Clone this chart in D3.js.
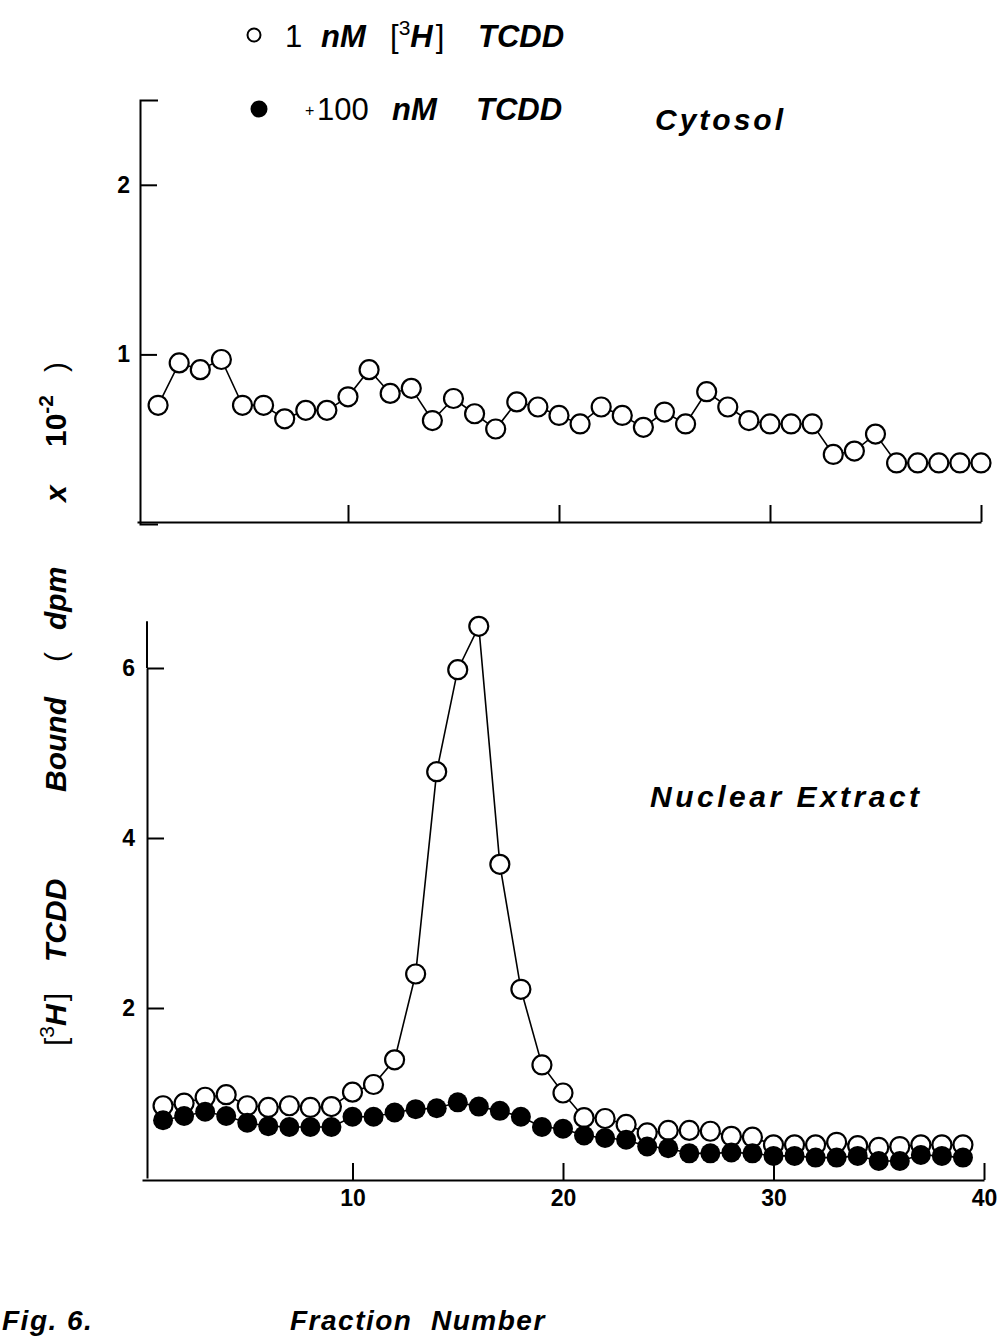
<!DOCTYPE html>
<html>
<head>
<meta charset="utf-8">
<script src="https://cdn.jsdelivr.net/npm/d3@7"></script>
<style>
  body { margin: 0; background: #fff; }
  svg text { font-family: "Liberation Sans", Arial, sans-serif; fill: #000; }
  .axis path, .axis line { stroke: #000; stroke-width: 2; }
  .axis text { font-size: 23px; font-weight: bold; font-family: "Liberation Sans", Arial, sans-serif; }
</style>
</head>
<body>
<div id="chart"></div>
<script>
// fraction numbers
var fractionsTop = [1,2,3,4,5,6,7,8,9,10,11,12,13,14,15,16,17,18,19,20,
                    21,22,23,24,25,26,27,28,29,30,31,32,33,34,35,36,37,38,39,40];
var fractionsBottom = [1,2,3,4,5,6,7,8,9,10,11,12,13,14,15,16,17,18,19,20,
                       21,22,23,24,25,26,27,28,29,30,31,32,33,34,35,36,37,38,39];

// Cytosol, 1 nM [3H] TCDD
var cytosolOpen = [0.70,0.95,0.91,0.97,0.70,0.70,0.62,0.67,0.67,0.75,
                   0.91,0.77,0.80,0.61,0.74,0.65,0.56,0.72,0.69,0.64,
                   0.59,0.69,0.64,0.57,0.66,0.59,0.78,0.69,0.61,0.59,
                   0.59,0.59,0.41,0.43,0.53,0.36,0.36,0.36,0.36,0.36];

// Nuclear extract, 1 nM [3H] TCDD
var nuclearOpen = [0.85,0.88,0.95,0.98,0.85,0.83,0.85,0.83,0.84,1.01,
                   1.10,1.39,2.40,4.78,5.98,6.49,3.69,2.22,1.33,1.00,
                   0.71,0.70,0.63,0.53,0.56,0.56,0.55,0.49,0.48,0.39,
                   0.39,0.39,0.42,0.38,0.36,0.37,0.39,0.39,0.39];

// Nuclear extract, +100 nM TCDD
var nuclearFilled = [0.68,0.73,0.78,0.73,0.65,0.61,0.60,0.60,0.60,0.72,
                     0.72,0.77,0.81,0.82,0.89,0.84,0.79,0.72,0.60,0.58,
                     0.50,0.47,0.45,0.37,0.35,0.29,0.29,0.30,0.29,0.26,
                     0.26,0.24,0.24,0.26,0.20,0.20,0.27,0.26,0.24];

var xTicks = [10,20,30,40];
var yTicksTop = [1,2];
var yTicksBottom = [2,4,6];

var w = 998, h = 1340;

var svg = d3.select("#chart").append("svg")
    .attr("width", w)
    .attr("height", h);

function zip(xs, ys) {
  return xs.map(function(x, i) { return {f: x, v: ys[i]}; });
}

//---------- top panel (Cytosol)
var xTop = d3.scaleLinear().domain([0, 40]).range([137, 981]);
var yTop = d3.scaleLinear().domain([0, 2.5]).range([524, 100]);

svg.append("g")
    .attr("class", "axis")
    .attr("transform", "translate(0,522)")
    .call(d3.axisBottom(xTop).tickValues(xTicks).tickSize(-17).tickSizeOuter(0).tickFormat(""));

svg.append("g")
    .attr("class", "axis")
    .attr("transform", "translate(140,0)")
    .call(d3.axisLeft(yTop).tickValues(yTicksTop).tickSize(-17).tickSizeOuter(-18)
          .tickPadding(10).tickFormat(d3.format("d")));

var lineTop = d3.line()
    .x(function(d) { return xTop(d.f); })
    .y(function(d) { return yTop(d.v); });

var topData = zip(fractionsTop, cytosolOpen);

svg.append("path")
    .datum(topData)
    .attr("d", lineTop)
    .attr("fill", "none")
    .attr("stroke", "#000")
    .attr("stroke-width", 1.6);

svg.selectAll("circle.top")
    .data(topData)
    .enter()
    .append("circle")
    .attr("class", "top")
    .attr("cx", function(d) { return xTop(d.f); })
    .attr("cy", function(d) { return yTop(d.v); })
    .attr("r", 9.5)
    .attr("fill", "#fff")
    .attr("stroke", "#000")
    .attr("stroke-width", 2.2);

//---------- bottom panel (Nuclear Extract)
var xBot = d3.scaleLinear().domain([0, 40]).range([142, 984]);
var yBot = d3.scaleLinear().domain([0, 6]).range([1178, 668]);

svg.append("g")
    .attr("class", "axis")
    .attr("transform", "translate(0,1180)")
    .call(d3.axisBottom(xBot).tickValues(xTicks).tickSize(-17).tickSizeOuter(0).tickPadding(10));

svg.append("g")
    .attr("class", "axis")
    .attr("transform", "translate(147,0)")
    .call(d3.axisLeft(yBot).tickValues(yTicksBottom).tickSize(-17).tickSizeOuter(0)
          .tickPadding(12).tickFormat(d3.format("d")));

// extend the y axis line up to the top of the panel
svg.append("line")
    .attr("x1", 147).attr("x2", 147)
    .attr("y1", yBot(6)).attr("y2", yBot(6.55))
    .attr("stroke", "#000").attr("stroke-width", 2);

var lineBot = d3.line()
    .x(function(d) { return xBot(d.f); })
    .y(function(d) { return yBot(d.v); });

var openData = zip(fractionsBottom, nuclearOpen);
var filledData = zip(fractionsBottom, nuclearFilled);

svg.append("path")
    .datum(openData)
    .attr("d", lineBot)
    .attr("fill", "none")
    .attr("stroke", "#000")
    .attr("stroke-width", 1.6);

svg.append("path")
    .datum(filledData)
    .attr("d", lineBot)
    .attr("fill", "none")
    .attr("stroke", "#000")
    .attr("stroke-width", 1.6);

svg.selectAll("circle.open")
    .data(openData)
    .enter()
    .append("circle")
    .attr("class", "open")
    .attr("cx", function(d) { return xBot(d.f); })
    .attr("cy", function(d) { return yBot(d.v); })
    .attr("r", 9.5)
    .attr("fill", "#fff")
    .attr("stroke", "#000")
    .attr("stroke-width", 2.2);

svg.selectAll("circle.filled")
    .data(filledData)
    .enter()
    .append("circle")
    .attr("class", "filled")
    .attr("cx", function(d) { return xBot(d.f); })
    .attr("cy", function(d) { return yBot(d.v); })
    .attr("r", 10)
    .attr("fill", "#000");

//---------- legend
svg.append("circle")
    .attr("cx", 254).attr("cy", 35).attr("r", 6.5)
    .attr("fill", "#fff").attr("stroke", "#000").attr("stroke-width", 2);

var leg1 = svg.append("text")
    .attr("y", 47)
    .style("font-size", "31px");
leg1.append("tspan").attr("x", 285).text("1");
leg1.append("tspan").attr("x", 321).style("font-weight", "bold").style("font-style", "italic").text("nM");
leg1.append("tspan").attr("x", 390).text("[");
leg1.append("tspan").attr("dy", -12).style("font-size", "21px").text("3");
leg1.append("tspan").attr("dy", 12).style("font-weight", "bold").style("font-style", "italic").text("H");
leg1.append("tspan").attr("dx", 3).text("]");
leg1.append("tspan").attr("x", 478).style("font-weight", "bold").style("font-style", "italic").text("TCDD");

svg.append("circle")
    .attr("cx", 259).attr("cy", 109).attr("r", 8.5)
    .attr("fill", "#000");

var leg2 = svg.append("text")
    .attr("y", 120)
    .style("font-size", "31px");
leg2.append("tspan").attr("x", 305).attr("dy", -4).style("font-size", "16px").text("+");
leg2.append("tspan").attr("x", 317).attr("dy", 4).text("100");
leg2.append("tspan").attr("x", 392).style("font-weight", "bold").style("font-style", "italic").text("nM");
leg2.append("tspan").attr("x", 476).style("font-weight", "bold").style("font-style", "italic").text("TCDD");

//---------- panel titles
svg.append("text")
    .attr("x", 655).attr("y", 130)
    .style("font-size", "30px").style("font-weight", "bold").style("font-style", "italic")
    .style("letter-spacing", "3px")
    .text("Cytosol");

svg.append("text")
    .attr("x", 650).attr("y", 807)
    .style("font-size", "30px").style("font-weight", "bold").style("font-style", "italic")
    .style("letter-spacing", "3.5px")
    .text("Nuclear Extract");

//---------- axis titles
svg.append("text")
    .attr("x", 290).attr("y", 1330)
    .style("font-size", "28px").style("font-weight", "bold").style("font-style", "italic")
    .style("letter-spacing", "1.5px")
    .style("white-space", "pre")
    .text("Fraction  Number");

svg.append("text")
    .attr("x", 2).attr("y", 1330)
    .style("font-size", "28px").style("font-weight", "bold").style("font-style", "italic")
    .style("letter-spacing", "1.5px")
    .text("Fig. 6.");

// rotated y title: x inside the rotated frame is minus the screen y
var yl = svg.append("text")
    .attr("transform", "translate(66,0) rotate(-90)")
    .style("font-size", "30px");
yl.append("tspan").attr("x", -1046).text("[");
yl.append("tspan").attr("dy", -12).style("font-size", "21px").text("3");
yl.append("tspan").attr("dy", 12).style("font-weight", "bold").style("font-style", "italic").text("H");
yl.append("tspan").attr("dx", 3).text("]");
yl.append("tspan").attr("x", -962).style("font-weight", "bold").style("font-style", "italic").text("TCDD");
yl.append("tspan").attr("x", -792).style("font-weight", "bold").style("font-style", "italic").text("Bound");
yl.append("tspan").attr("x", -662).text("(");
yl.append("tspan").attr("x", -630).style("font-weight", "bold").style("font-style", "italic").text("dpm");
yl.append("tspan").attr("x", -502).style("font-style", "italic").style("font-weight", "bold").text("x");
yl.append("tspan").attr("x", -447).style("font-weight", "bold").text("10");
yl.append("tspan").attr("dy", -13).style("font-size", "21px").style("font-weight", "bold").text("-2");
yl.append("tspan").attr("x", -372).attr("dy", 13).text(")");
</script>
</body>
</html>
